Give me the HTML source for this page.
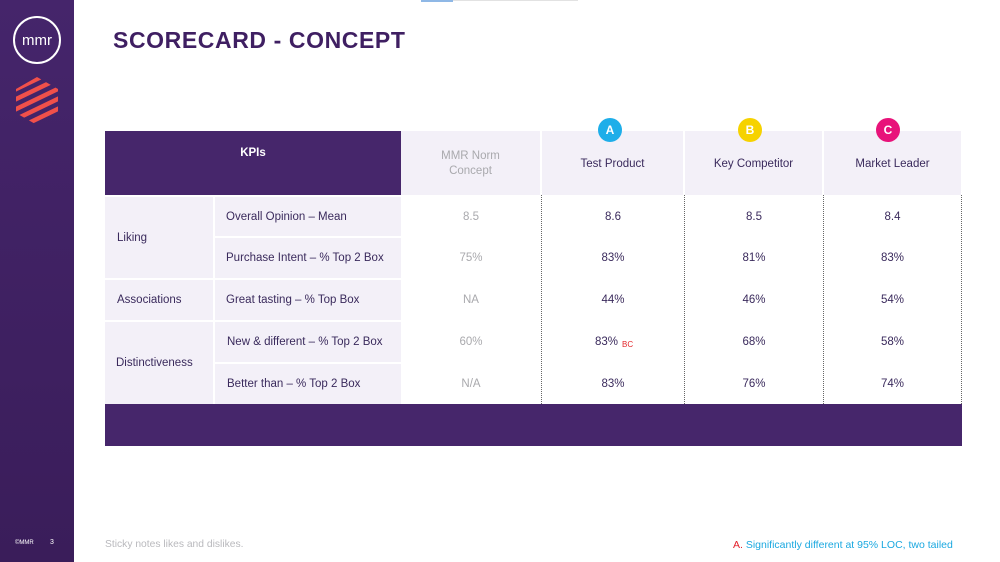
<!DOCTYPE html>
<html><head><meta charset="utf-8">
<style>
*{margin:0;padding:0;box-sizing:border-box}
body{width:1000px;height:562px;position:relative;background:#fff;font-family:"Liberation Sans",sans-serif;overflow:hidden}
.a{position:absolute}
.side{left:0;top:0;width:74px;height:562px;background:linear-gradient(#45256b,#3a1d5a)}
.title{left:113px;top:27px;font-size:23px;font-weight:bold;color:#3f1f62;letter-spacing:0.6px}
.lav{background:#f3f0f8}
.pur{background:#46266b}
.t{font-size:11.5px;color:#3a2a5c;display:flex;align-items:center}
.c{justify-content:center;text-align:center}
.g{color:#a9a9ad}
.dot{width:0;border-left:1px dotted #666;top:195px;height:209px}
.circ{width:24px;height:24px;border-radius:12px;color:#fff;font-weight:bold;font-size:12px;display:flex;align-items:center;justify-content:center;top:118px}
</style></head><body>
<div class="a side"></div>
<svg class="a" style="left:0;top:0" width="74" height="130">
  <circle cx="37" cy="40" r="23" fill="none" stroke="#fff" stroke-width="2"/>
  <text x="37" y="45" text-anchor="middle" fill="#fff" font-family="Liberation Sans" font-size="15">mmr</text>
  <defs><clipPath id="hx"><polygon points="37,77 58,89 58,113 37,125 16,113 16,89"/></clipPath></defs>
  <g clip-path="url(#hx)" stroke="#f0504a" stroke-width="4.5">
    <line x1="10" y1="92" x2="64" y2="66"/>
    <line x1="10" y1="102" x2="64" y2="76"/>
    <line x1="10" y1="112" x2="64" y2="86"/>
    <line x1="10" y1="122" x2="64" y2="96"/>
    <line x1="10" y1="132" x2="64" y2="106"/>
    <line x1="10" y1="142" x2="64" y2="116"/>
  </g>
</svg>
<div class="a" style="left:421px;top:0;width:32px;height:2px;background:#8fb8e6"></div>
<div class="a" style="left:453px;top:0;width:125px;height:1px;background:#e2e2e2"></div>
<div class="a title">SCORECARD - CONCEPT</div>

<!-- header -->
<div class="a pur t c" style="left:105px;top:131px;width:296px;height:64px;color:#fff;font-weight:bold;align-items:flex-start;padding-top:16px">KPIs</div>
<div class="a lav t c g" style="left:401px;top:131px;width:139px;height:64px;line-height:15px;padding-top:2px">MMR Norm<br>Concept</div>
<div class="a lav t c" style="left:542px;top:131px;width:141px;height:64px;padding-top:2px">Test Product</div>
<div class="a lav t c" style="left:685px;top:131px;width:137px;height:64px;padding-top:2px">Key Competitor</div>
<div class="a lav t c" style="left:824px;top:131px;width:137px;height:64px;padding-top:2px">Market Leader</div>
<div class="a circ" style="left:598px;background:#1eaee9">A</div>
<div class="a circ" style="left:738px;background:#f6d200">B</div>
<div class="a circ" style="left:876px;background:#e8137a">C</div>

<!-- labels col1 -->
<div class="a lav t" style="left:105px;top:197px;width:108px;height:81px;padding-left:12px">Liking</div>
<div class="a lav t" style="left:105px;top:280px;width:108px;height:40px;padding-left:12px">Associations</div>
<div class="a lav t" style="left:105px;top:322px;width:108px;height:82px;padding-left:11px">Distinctiveness</div>
<!-- col2 -->
<div class="a lav t" style="left:215px;top:197px;width:186px;height:39px;padding-left:11px">Overall Opinion – Mean</div>
<div class="a lav t" style="left:215px;top:238px;width:186px;height:40px;padding-left:11px">Purchase Intent – % Top 2 Box</div>
<div class="a lav t" style="left:215px;top:280px;width:186px;height:40px;padding-left:11px">Great tasting – % Top Box</div>
<div class="a lav t" style="left:215px;top:322px;width:186px;height:40px;padding-left:12px">New &amp; different – % Top 2 Box</div>
<div class="a lav t" style="left:215px;top:364px;width:186px;height:40px;padding-left:12px">Better than – % Top 2 Box</div>

<!-- dotted lines -->
<div class="a dot" style="left:541px"></div>
<div class="a dot" style="left:684px"></div>
<div class="a dot" style="left:823px"></div>
<div class="a dot" style="left:961px"></div>

<!-- data -->
<div class="a t c g" style="left:401px;top:197px;width:140px;height:39px">8.5</div>
<div class="a t c g" style="left:401px;top:238px;width:140px;height:40px">75%</div>
<div class="a t c g" style="left:401px;top:280px;width:140px;height:40px">NA</div>
<div class="a t c g" style="left:401px;top:322px;width:140px;height:40px">60%</div>
<div class="a t c g" style="left:401px;top:364px;width:140px;height:40px">N/A</div>

<div class="a t c" style="left:542px;top:197px;width:142px;height:39px">8.6</div>
<div class="a t c" style="left:542px;top:238px;width:142px;height:40px">83%</div>
<div class="a t c" style="left:542px;top:280px;width:142px;height:40px">44%</div>
<div class="a t" style="left:595px;top:322px;width:80px;height:40px">83%<span style="color:#e3262a;font-size:8px;margin-left:4px;margin-top:4px">BC</span></div>
<div class="a t c" style="left:542px;top:364px;width:142px;height:40px">83%</div>

<div class="a t c" style="left:685px;top:197px;width:138px;height:39px">8.5</div>
<div class="a t c" style="left:685px;top:238px;width:138px;height:40px">81%</div>
<div class="a t c" style="left:685px;top:280px;width:138px;height:40px">46%</div>
<div class="a t c" style="left:685px;top:322px;width:138px;height:40px">68%</div>
<div class="a t c" style="left:685px;top:364px;width:138px;height:40px">76%</div>

<div class="a t c" style="left:824px;top:197px;width:137px;height:39px">8.4</div>
<div class="a t c" style="left:824px;top:238px;width:137px;height:40px">83%</div>
<div class="a t c" style="left:824px;top:280px;width:137px;height:40px">54%</div>
<div class="a t c" style="left:824px;top:322px;width:137px;height:40px">58%</div>
<div class="a t c" style="left:824px;top:364px;width:137px;height:40px">74%</div>

<!-- bottom band -->
<div class="a pur" style="left:105px;top:404px;width:857px;height:42px"></div>

<!-- footer -->
<div class="a" style="left:15px;top:540px;font-size:6px;color:#fff">©MMR</div>
<div class="a" style="left:50px;top:539px;font-size:7px;color:#fff">3</div>
<div class="a" style="left:105px;top:539px;font-size:10.3px;color:#b9b9bd">Sticky notes likes and dislikes.</div>
<div class="a" style="left:733px;top:539px;font-size:10.5px;color:#1aa8e0;white-space:nowrap"><span style="color:#e3202a">A.</span> Significantly different at 95% LOC, two tailed</div>
</body></html>
